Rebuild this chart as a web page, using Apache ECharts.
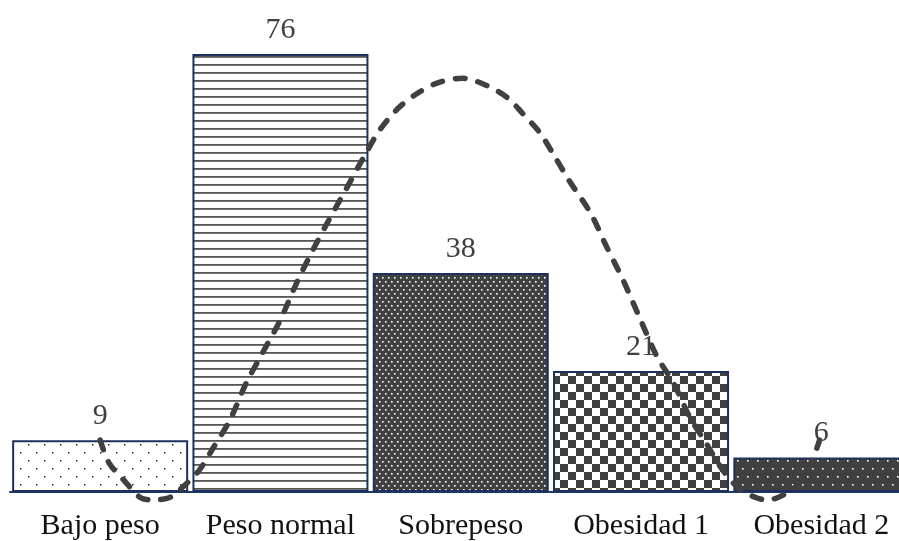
<!DOCTYPE html>
<html>
<head>
<meta charset="utf-8">
<script src="https://cdn.jsdelivr.net/npm/echarts@6/dist/echarts.min.js"></script>
<style>html,body{margin:0;padding:0;background:#fff}#c{width:899px;height:541px}</style>
</head>
<body>
<div id="c"></div>
<script>
const categories = ['Bajo peso', 'Peso normal', 'Sobrepeso', 'Obesidad 1', 'Obesidad 2'];
const counts = [9, 76, 38, 21, 6];
// dashed curve: position in category units (0..5) and value
const curveX = [0.50,0.55,0.63,0.72,0.79,0.89,0.96,1.05,1.13,1.22,1.31,1.40,1.50,1.59,1.68,1.76,1.87,1.96,2.05,2.16,2.27,2.38,2.51,2.64,2.76,2.84,2.94,3.01,3.10,3.22,3.31,3.40,3.49,3.59,3.68,3.77,3.86,3.96,4.05,4.14,4.20,4.29,4.38,4.45,4.49];
const curveY = [9.0,5.0,2.1,-0.9,-1.4,-0.9,0.9,3.8,7.8,12.5,18.9,24.1,29.9,36.3,42.0,46.7,52.9,58.0,62.8,66.8,69.4,71.1,71.8,70.6,68.4,65.8,62.3,58.8,54.1,48.4,42.5,36.8,30.4,23.4,18.9,13.0,8.5,3.5,0.4,-1.0,-1.4,-0.5,1.6,5.5,9.0];
const yMax = 80;

function pattern(w, h, draw) {
  const c = document.createElement('canvas');
  c.width = w; c.height = h;
  const g = c.getContext('2d');
  draw(g, w, h);
  return { image: c, repeat: 'repeat' };
}
const dark = '#404040';
const fills = [
  pattern(16, 16, (g) => { g.fillStyle = '#fff'; g.fillRect(0,0,16,16); g.fillStyle = '#222'; g.fillRect(4,4,1.5,1.5); g.fillRect(12,12,1.5,1.5); }),
  pattern(8, 8, (g) => { g.fillStyle = '#fff'; g.fillRect(0,0,8,8); g.fillStyle = '#555'; g.fillRect(0,0,8,1.8); }),
  pattern(6, 8, (g) => { g.fillStyle = dark; g.fillRect(0,0,6,8); g.fillStyle = '#fff'; g.fillRect(1,1,1.6,1.6); g.fillRect(4,5,1.6,1.6); }),
  pattern(16, 16, (g) => { g.fillStyle = '#fff'; g.fillRect(0,0,16,16); g.fillStyle = dark; g.fillRect(0,0,8,8); g.fillRect(8,8,8,8); }),
  pattern(10, 16, (g) => { g.fillStyle = dark; g.fillRect(0,0,10,16); g.fillStyle = '#fff'; g.fillRect(2,4,1.6,1.6); g.fillRect(7,12,1.6,1.6); })
];

const chart = echarts.init(document.getElementById('c'));
chart.setOption({
  animation: false,
  grid: { left: 10, top: 31, width: 901.5, height: 461, outerBoundsMode: 'none', containLabel: false },
  xAxis: [
    {
      type: 'category', data: categories,
      axisLine: { show: true, lineStyle: { color: '#1F3864', width: 2 } },
      axisTick: { show: false },
      axisLabel: { interval: 0, hideOverlap: false, color: '#111', fontFamily: 'Liberation Serif', fontSize: 30, margin: 19 }
    },
    { type: 'value', min: 0, max: 5, show: false }
  ],
  yAxis: { type: 'value', min: 0, max: yMax, show: false },
  series: [
    {
      type: 'bar', xAxisIndex: 0,
      barWidth: 176,
      data: counts.map((v, i) => ({ value: v, itemStyle: { color: fills[i] } })),
      itemStyle: { borderColor: '#1F3060', borderWidth: 2 },
      label: { show: true, position: 'top', distance: 9, color: '#404040', fontFamily: 'Liberation Serif', fontSize: 30 }
    },
    {
      type: 'line', xAxisIndex: 1, yAxisIndex: 0,
      data: curveX.map((x, i) => [x, curveY[i]]),
      smooth: 0.3, symbol: 'none', clip: false, z: 5,
      lineStyle: { color: '#404040', width: 5.5, type: [10, 13], cap: 'round' }
    }
  ]
});
</script>
</body>
</html>
